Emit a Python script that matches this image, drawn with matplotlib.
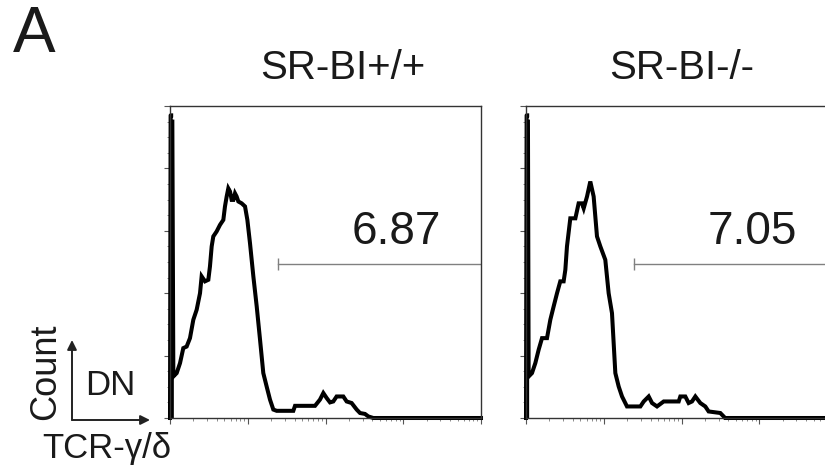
import numpy as np
import matplotlib
matplotlib.use('Agg')
import matplotlib.pyplot as plt
from matplotlib.patches import FancyArrowPatch
from matplotlib.ticker import MultipleLocator, LogLocator, NullFormatter

plt.rcParams['font.family'] = ['Liberation Sans', 'DejaVu Sans']

# histogram traces: x in decades of TCR-gamma/delta, y in % of max count
wt_dec = [0.0, 0.008, 0.015, 0.03, 0.043, 0.086, 0.129, 0.171, 0.214, 0.257, 0.300,
          0.343, 0.386, 0.407, 0.450, 0.493, 0.514, 0.536, 0.557, 0.600, 0.643,
          0.686, 0.707, 0.729, 0.750, 0.772, 0.793, 0.815, 0.836, 0.857, 0.879,
          0.922, 0.965, 0.995, 1.029, 1.072, 1.115, 1.158, 1.200, 1.243, 1.286,
          1.329, 1.372, 1.586, 1.608, 1.865, 1.929, 1.972, 2.015, 2.058, 2.100,
          2.143, 2.229, 2.272, 2.336, 2.401, 2.444, 2.508, 2.551, 2.615, 4.0]
wt_cnt = [0.0, 97.0, 97.0, 95.0, 13.3, 14.4, 17.6, 22.4, 22.9, 25.6, 31.5,
          34.7, 40.0, 45.4, 43.8, 44.3, 48.6, 55.0, 58.2, 59.8, 61.9,
          63.5, 67.8, 71.0, 73.6, 72.6, 69.9, 69.9, 72.0, 71.0, 69.4,
          68.8, 67.8, 63.5, 56.0, 45.4, 35.8, 25.1, 14.4, 10.1, 5.9,
          2.7, 2.3, 2.3, 3.9, 3.9, 5.9, 8.0, 6.4, 5.0, 5.3,
          6.9, 6.9, 5.3, 4.8, 2.7, 1.6, 1.3, 0.5, 0.0, 0.0]

ko_dec = [0.0, 0.008, 0.015, 0.025, 0.034, 0.077, 0.120, 0.163, 0.206, 0.270, 0.313,
          0.356, 0.399, 0.441, 0.484, 0.506, 0.527, 0.570, 0.635, 0.677, 0.720,
          0.742, 0.785, 0.827, 0.870, 0.913, 0.956, 1.020, 1.063, 1.106, 1.149,
          1.192, 1.235, 1.299, 1.471, 1.514, 1.578, 1.621, 1.685, 1.771, 1.964,
          1.985, 2.049, 2.092, 2.135, 2.178, 2.242, 2.306, 2.349, 2.499, 2.542,
          2.56, 4.0]
ko_cnt = [0.0, 97.0, 97.0, 95.0, 13.3, 14.4, 17.6, 21.9, 25.6, 25.6, 31.5,
          35.8, 40.0, 43.8, 43.8, 47.5, 55.0, 64.0, 64.0, 68.8, 68.8,
          67.2, 71.0, 75.8, 71.0, 58.2, 55.0, 50.7, 40.0, 33.6, 14.4,
          10.1, 6.9, 3.7, 3.7, 5.3, 6.9, 4.8, 3.7, 5.3, 5.3,
          6.9, 6.9, 4.8, 5.3, 6.9, 4.8, 3.7, 2.1, 1.6, 0.5,
          0.0, 0.0]

titles = ['SR-BI+/+', 'SR-BI-/-']
gate_pct = ['6.87', '7.05']
gate_start = 1.393   # decades
gate_level = 49.3

W, H = 825, 469
fig = plt.figure(figsize=(W / 100, H / 100), dpi=100)

ax_w, ax_h = 311 / W, 312 / H
ax_b = (H - 418) / H
lefts = [170 / W, 526 / W]
title_x = [342.5 / W, 682 / W]
data = [(wt_dec, wt_cnt), (ko_dec, ko_cnt)]

for left, tx, (dec, cnt), title, pct in zip(lefts, title_x, data, titles,
                                            gate_pct):
    ax = fig.add_axes([left, ax_b, ax_w, ax_h])
    ax.set_xscale('log')
    x = 10 ** np.array(dec)
    # the pile-up at the axis is a solid block
    ax.fill_between(x[:5], cnt[:5], color='black', lw=0)
    ax.plot(x[3:], cnt[3:], color='black', lw=2.9, solid_joinstyle='miter',
            clip_on=False)
    ax.plot(x[:3], cnt[:3], color='black', lw=2.9, clip_on=False)
    ax.set_xlim(1, 1e4)
    ax.set_ylim(0, 100)

    # gate bar
    ax.plot([10 ** gate_start, 1e4], [gate_level, gate_level],
            color='#808080', lw=1)
    ax.plot([10 ** gate_start], [gate_level], marker='|', ms=9,
            color='#808080', mew=1)
    ax.text(0.728, 0.596, pct, transform=ax.transAxes, ha='center',
            va='center', fontsize=33, color='#1a1a1a')

    ax.xaxis.set_major_locator(LogLocator(base=10, numticks=10))
    ax.xaxis.set_minor_locator(LogLocator(base=10, subs=np.arange(2, 10),
                                          numticks=20))
    ax.xaxis.set_major_formatter(NullFormatter())
    ax.xaxis.set_minor_formatter(NullFormatter())
    ax.yaxis.set_major_locator(MultipleLocator(20))
    ax.yaxis.set_minor_locator(MultipleLocator(5))
    ax.set_yticklabels([])
    ax.tick_params(which='major', length=4, width=0.8, color='#555555')
    ax.tick_params(which='minor', length=2, width=0.6, color='#777777')
    for sp in ax.spines.values():
        sp.set_color('#333333')
        sp.set_linewidth(1.0)

    fig.text(tx, 1 - 79 / H, title, ha='center', va='baseline',
             fontsize=29, color='#1a1a1a')

fig.text(13 / W, 1 - 52 / H, 'A', ha='left', va='baseline', fontsize=46,
         color='#1a1a1a')

# axis key in the lower left corner
fig.text(46 / W, 1 - 372 / H, 'Count', rotation=90, ha='center',
         va='center', fontsize=26, color='#1a1a1a')
fig.text(85 / W, 1 - 395 / H, 'DN', ha='left', va='baseline', fontsize=25,
         color='#1a1a1a')
fig.text(42 / W, 1 - 458 / H, 'TCR-γ/δ', ha='left', va='baseline',
         fontsize=25, color='#1a1a1a')

corner = (72 / W, 1 - 420 / H)
for tip in [(72 / W, 1 - 340 / H), (150 / W, 1 - 420 / H)]:
    fig.add_artist(FancyArrowPatch(corner, tip, transform=fig.transFigure,
                                   arrowstyle='-|>', mutation_scale=14,
                                   lw=1.4, color='#222222',
                                   shrinkA=0, shrinkB=0))

fig.savefig('out.png', dpi=100)
